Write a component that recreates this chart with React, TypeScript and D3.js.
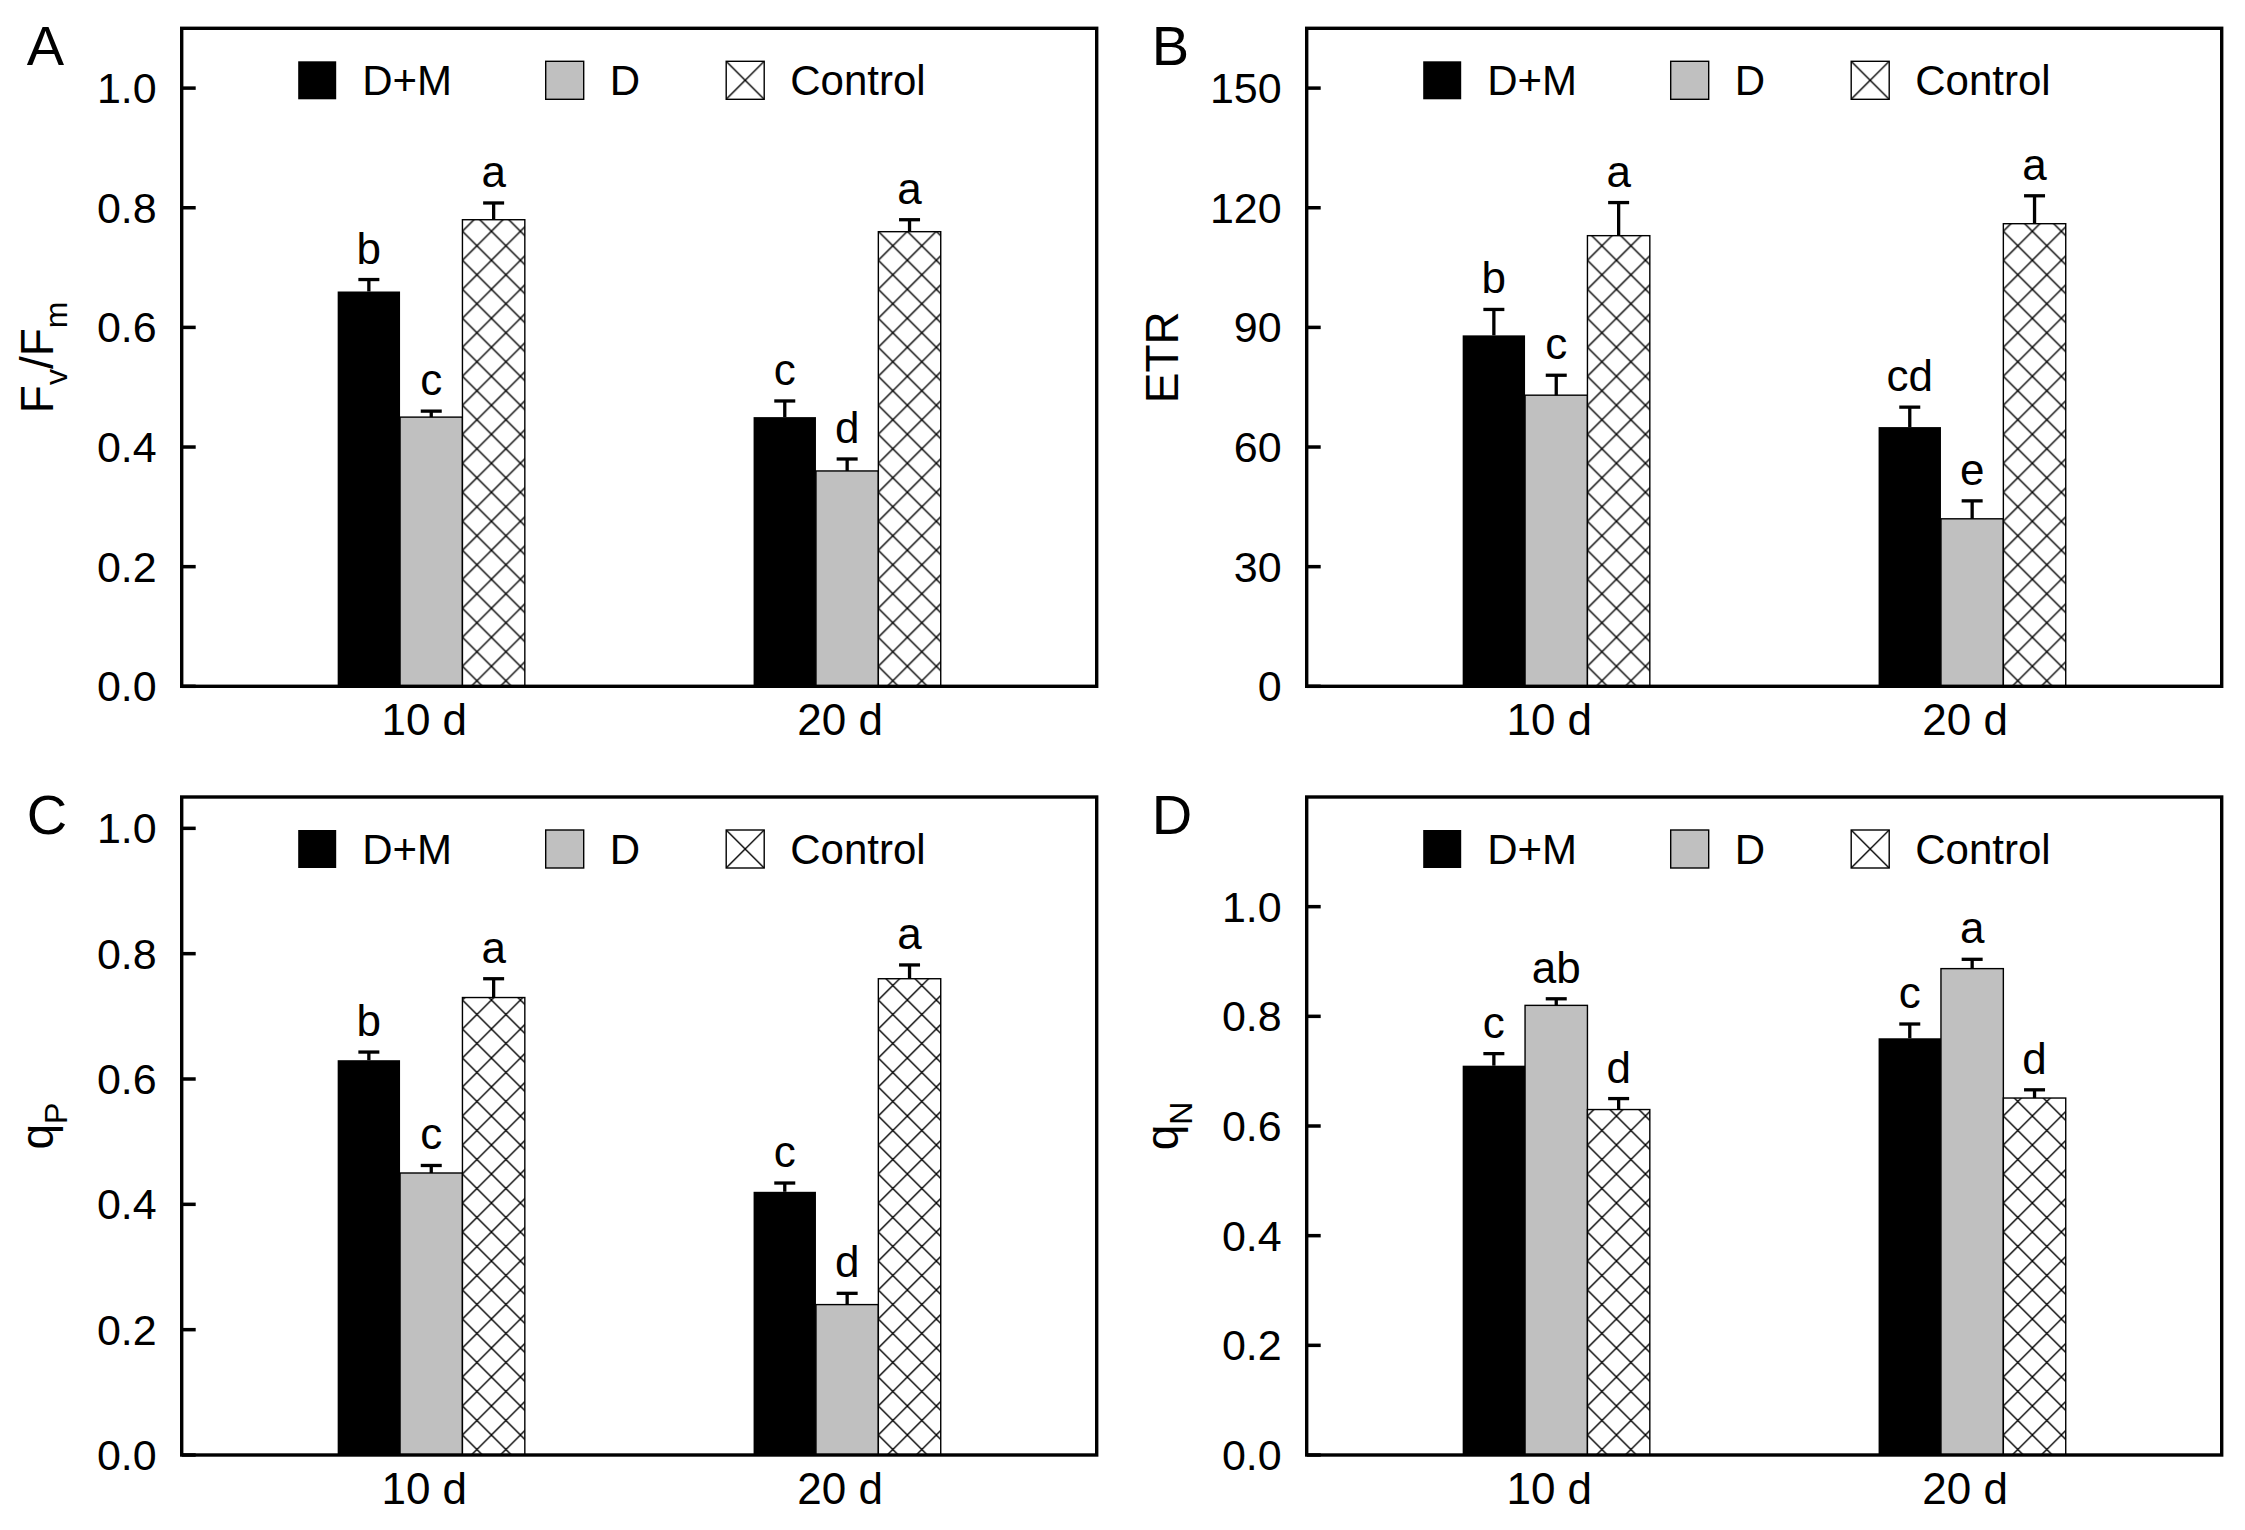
import * as d3 from 'd3';

// categories
const groups = ['10 d', '20 d'];
const treatments = ['D+M', 'D', 'Control'];

// values per group: [D+M, D, Control]
const fvfmMean = [[0.66, 0.45, 0.78], [0.45, 0.36, 0.76]];
const fvfmErr = [[0.02, 0.01, 0.028], [0.027, 0.02, 0.02]];
const fvfmSig = [['b', 'c', 'a'], ['c', 'd', 'a']];

const etrMean = [[88, 73, 113], [65, 42, 116]];
const etrErr = [[6.5, 5, 8.3], [5, 4.5, 7]];
const etrSig = [['b', 'c', 'a'], ['cd', 'e', 'a']];

const qpMean = [[0.63, 0.45, 0.73], [0.42, 0.24, 0.76]];
const qpErr = [[0.013, 0.012, 0.03], [0.014, 0.018, 0.022]];
const qpSig = [['b', 'c', 'a'], ['c', 'd', 'a']];

const qnMean = [[0.71, 0.82, 0.63], [0.76, 0.887, 0.651]];
const qnErr = [[0.022, 0.012, 0.02], [0.026, 0.017, 0.015]];
const qnSig = [['c', 'ab', 'd'], ['c', 'a', 'd']];

// tick labels
const fracTicks = [0, 0.2, 0.4, 0.6, 0.8, 1.0];
const etrTicks = [0, 30, 60, 90, 120, 150];

const FONT = '"Liberation Sans", Arial, Helvetica, sans-serif';
const W = 915;
const H = 658;
const barW = 0.15;
const hatchSize = 29;
const legendX = [116.5, 364, 544.5];

interface PanelCfg {
  key: string;
  letter: string;
  title: [string, string][]; // [text, 'n'|'s']
  domain: [number, number];
  ticks: number[];
  fmt: (v: number) => string;
  mean: number[][];
  err: number[][];
  sig: string[][];
  x0: number;
  y0: number;
}

const panels: PanelCfg[] = [
  { key: 'A', letter: 'A', title: [['F', 'n'], ['v', 's'], ['/F', 'n'], ['m', 's']], domain: [0, 1.1], ticks: fracTicks, fmt: (v) => v.toFixed(1), mean: fvfmMean, err: fvfmErr, sig: fvfmSig, x0: 181.7, y0: 28.3 },
  { key: 'B', letter: 'B', title: [['ETR', 'n']], domain: [0, 165], ticks: etrTicks, fmt: (v) => String(v), mean: etrMean, err: etrErr, sig: etrSig, x0: 1306.7, y0: 28.3 },
  { key: 'C', letter: 'C', title: [['q', 'n'], ['P', 's']], domain: [0, 1.05], ticks: fracTicks, fmt: (v) => v.toFixed(1), mean: qpMean, err: qpErr, sig: qpSig, x0: 181.7, y0: 797 },
  { key: 'D', letter: 'D', title: [['q', 'n'], ['N', 's']], domain: [0, 1.2], ticks: fracTicks, fmt: (v) => v.toFixed(1), mean: qnMean, err: qnErr, sig: qnSig, x0: 1306.7, y0: 797 },
];

function hatchLines(s: number) {
  return (
    <>
      <rect width={s} height={s} fill="#fff" />
      <path d={`M0,0L${s},${s}M${s},0L0,${s}`} stroke="#000" strokeWidth={1.4} />
    </>
  );
}

function Panel({ cfg }: { cfg: PanelCfg }) {
  const xs = d3.scaleLinear().domain([0.4, 2.6]).range([0, W]);
  const ys = d3.scaleLinear().domain(cfg.domain).range([H, 0]);
  const bw = xs(barW) - xs(0);

  let inSub = false;
  const titleSpans = cfg.title.map(([t, kind], i) => {
    let dy = 0;
    if (kind === 's' && !inSub) { dy = 14; inSub = true; }
    else if (kind === 'n' && inSub) { dy = -14; inSub = false; }
    return (
      <tspan key={i} dy={dy} fontSize={kind === 's' ? 32 : 46}>{t}</tspan>
    );
  });

  return (
    <g transform={`translate(${cfg.x0},${cfg.y0})`} fontFamily={FONT}>
      <defs>
        {groups.map((_, gi) => {
          const left = xs(gi + 1 + barW - barW / 2);
          return (
            <pattern key={gi} id={`hatch-${cfg.key}-${gi}`} patternUnits="userSpaceOnUse"
              x={left} y={0} width={hatchSize} height={hatchSize}>
              {hatchLines(hatchSize)}
            </pattern>
          );
        })}
        <pattern id={`hatch-leg-${cfg.key}`} patternUnits="userSpaceOnUse"
          x={legendX[2]} y={33} width={38} height={38}>
          {hatchLines(38)}
        </pattern>
      </defs>

      {/* bars */}
      {groups.map((_, gi) =>
        treatments.map((_, ti) => {
          const c = gi + 1 + (ti - 1) * barW;
          const v = cfg.mean[gi][ti];
          const left = xs(c - barW / 2);
          const fill = ti === 0 ? '#000' : ti === 1 ? '#c0c0c0' : `url(#hatch-${cfg.key}-${gi})`;
          return (
            <rect key={`${gi}-${ti}`} x={left} y={ys(v)} width={bw} height={ys(0) - ys(v)}
              fill={fill} stroke="#000" strokeWidth={ti === 0 ? 0 : 1.4} />
          );
        })
      )}

      {/* error bars and letters */}
      {groups.map((_, gi) =>
        treatments.map((_, ti) => {
          const c = xs(gi + 1 + (ti - 1) * barW);
          const v = cfg.mean[gi][ti];
          const top = ys(v + cfg.err[gi][ti]);
          return (
            <g key={`e-${gi}-${ti}`}>
              <line x1={c} x2={c} y1={ys(v)} y2={top} stroke="#000" strokeWidth={3.3} />
              <line x1={c - 10.5} x2={c + 10.5} y1={top} y2={top} stroke="#000" strokeWidth={3.3} />
              <text x={c} y={top - 16} textAnchor="middle" fontSize={44}>{cfg.sig[gi][ti]}</text>
            </g>
          );
        })
      )}

      {/* legend */}
      {treatments.map((t, ti) => (
        <g key={t}>
          <rect x={legendX[ti]} y={33} width={38} height={38}
            fill={ti === 0 ? '#000' : ti === 1 ? '#c0c0c0' : `url(#hatch-leg-${cfg.key})`}
            stroke="#000" strokeWidth={ti === 0 ? 0 : 1.4} />
          <text x={legendX[ti] + 64} y={66.7} fontSize={42}>{t}</text>
        </g>
      ))}

      {/* frame */}
      <rect x={0} y={0} width={W} height={H} fill="none" stroke="#000" strokeWidth={3.4} />

      {/* y ticks */}
      {cfg.ticks.map((t) => (
        <g key={t} transform={`translate(0,${ys(t)})`}>
          <line x1={0} x2={14} stroke="#000" strokeWidth={3.5} />
          <text x={-25} dy="0.35em" textAnchor="end" fontSize={43}>{cfg.fmt(t)}</text>
        </g>
      ))}

      {/* x labels */}
      {groups.map((g, gi) => (
        <text key={g} x={xs(gi + 1)} dx={-7} y={H + 49} textAnchor="middle" fontSize={44}>{g}</text>
      ))}

      {/* y title */}
      <text transform={`translate(-128.5,${H / 2}) rotate(-90)`} textAnchor="middle" fontSize={46}>
        {titleSpans}
      </text>

      {/* panel letter */}
      <text x={-155} y={37} fontSize={56}>{cfg.letter}</text>
    </g>
  );
}

export default function App() {
  return (
    <div style={{ position: 'absolute', left: 0, top: 0, background: '#fff' }}>
      <svg width={2245} height={1530} viewBox="0 0 2245 1530" style={{ display: 'block' }}>
        <rect width={2245} height={1530} fill="#fff" />
        {panels.map((p) => (
          <Panel key={p.key} cfg={p} />
        ))}
      </svg>
    </div>
  );
}
